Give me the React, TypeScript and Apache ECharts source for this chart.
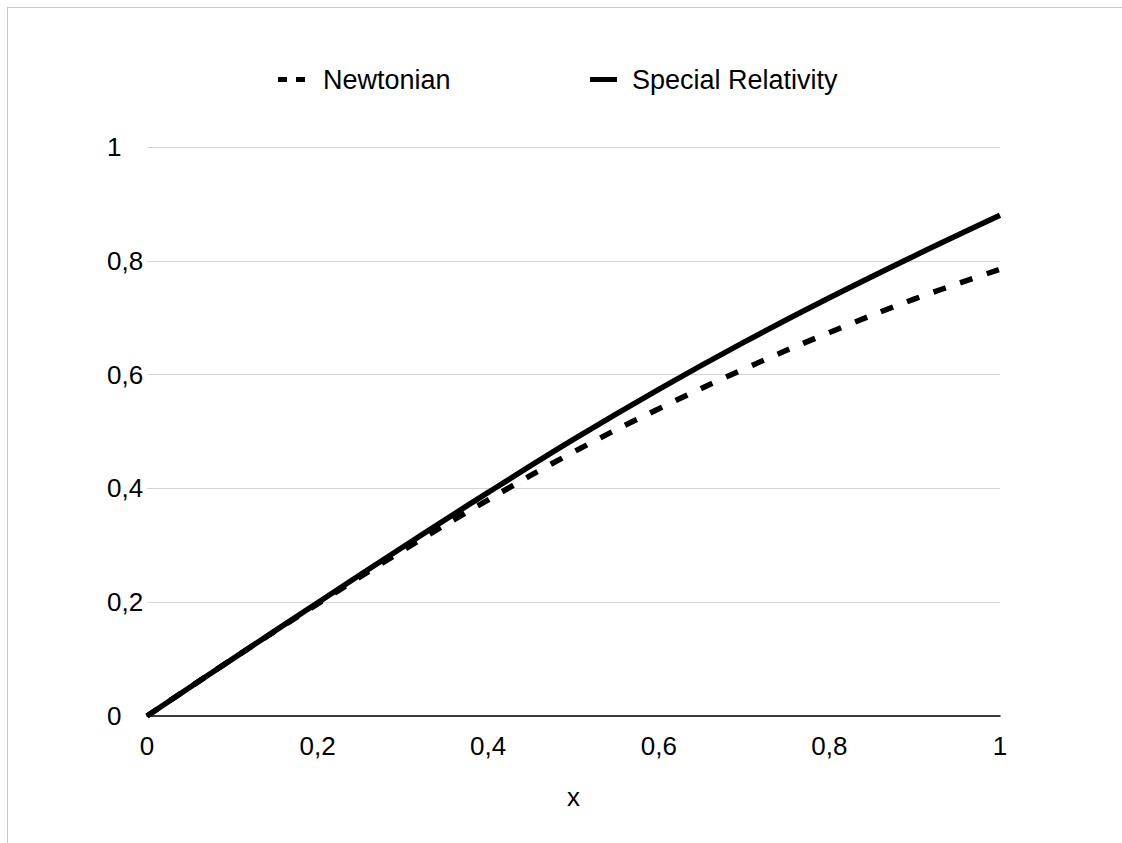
import React, { useEffect, useRef } from "react";
import * as echarts from "echarts";

const xValues = [0, 0.1, 0.2, 0.3, 0.4, 0.5, 0.6, 0.7, 0.8, 0.9, 1];
const newtonian = [0, 0.1, 0.197, 0.291, 0.38, 0.464, 0.54, 0.61, 0.674, 0.733, 0.785];
const relativity = [0, 0.1, 0.199, 0.297, 0.393, 0.486, 0.574, 0.657, 0.735, 0.809, 0.88];
const seriesNames = ["Newtonian", "Special Relativity"];
const axisTitle = "x";

const FONT = "'Liberation Sans', Arial, Helvetica, sans-serif";
const fmt = (v: number) => String(Math.round(v * 10) / 10).replace(".", ",");

const DASH_ICON = "path://M0,0H9V5H0Z M18,0H27V5H18Z";
const SOLID_ICON = "path://M0,0H27V5H0Z";

export default function App() {
  const ref = useRef<HTMLDivElement>(null);
  useEffect(() => {
    if (!ref.current) return;
    const chart = echarts.init(ref.current, undefined, { renderer: "svg" });
    chart.setOption({
      animation: false,
      backgroundColor: "#ffffff",
      textStyle: { fontFamily: FONT, color: "#000" },
      grid: { left: 147, top: 147, width: 853, height: 569, containLabel: false },
      legend: [
        {
          data: [{ name: seriesNames[0], icon: DASH_ICON }],
          left: 273,
          top: 61,
          itemWidth: 27,
          itemHeight: 5,
          itemStyle: { color: "#000", borderWidth: 0 },
          textStyle: { fontSize: 27, color: "#000", fontFamily: FONT, padding: [0, 0, 0, 13] },
        },
        {
          data: [{ name: seriesNames[1], icon: SOLID_ICON }],
          left: 585,
          top: 61,
          itemWidth: 27,
          itemHeight: 5,
          itemStyle: { color: "#000", borderWidth: 0 },
          textStyle: { fontSize: 27, color: "#000", fontFamily: FONT, padding: [0, 0, 0, 10] },
        },
      ],
      xAxis: {
        type: "value",
        min: 0,
        max: 1,
        interval: 0.2,
        name: axisTitle,
        nameLocation: "middle",
        nameGap: 68,
        nameTextStyle: { fontSize: 26, color: "#000", fontFamily: FONT },
        axisLine: { show: true, lineStyle: { color: "#000", width: 1.5 } },
        axisTick: { show: false },
        splitLine: { show: false },
        axisLabel: { fontSize: 26, color: "#000", margin: 17, formatter: fmt, fontFamily: FONT },
      },
      yAxis: {
        type: "value",
        min: 0,
        max: 1,
        interval: 0.2,
        axisLine: { show: false },
        axisTick: { show: false },
        splitLine: { show: true, lineStyle: { color: "#d4d4d4", width: 1.2 } },
        axisLabel: { fontSize: 26, color: "#000", margin: 40, align: "left", formatter: fmt, fontFamily: FONT },
      },
      series: [
        {
          name: seriesNames[0],
          type: "line",
          smooth: 0.4,
          symbol: "none",
          data: xValues.map((x, i) => [x, newtonian[i]]),
          lineStyle: { color: "#000", width: 5.5, type: [13, 15] },
          itemStyle: { color: "#000" },
          z: 2,
        },
        {
          name: seriesNames[1],
          type: "line",
          smooth: 0.4,
          symbol: "none",
          data: xValues.map((x, i) => [x, relativity[i]]),
          lineStyle: { color: "#000", width: 5.5, type: "solid" },
          itemStyle: { color: "#000" },
          z: 3,
        },
      ],
    });
    return () => chart.dispose();
  }, []);

  return (
    <div style={{ position: "absolute", left: 0, top: 0, width: 1122, height: 843, background: "#fff" }}>
      <div ref={ref} style={{ position: "absolute", left: 0, top: 0, width: 1122, height: 843 }} />
      <div
        style={{
          position: "absolute",
          left: 7,
          top: 7,
          width: 1115,
          height: 836,
          borderTop: "1px solid #c8c8c8",
          borderLeft: "1px solid #c8c8c8",
          boxSizing: "border-box",
          pointerEvents: "none",
        }}
      />
    </div>
  );
}
